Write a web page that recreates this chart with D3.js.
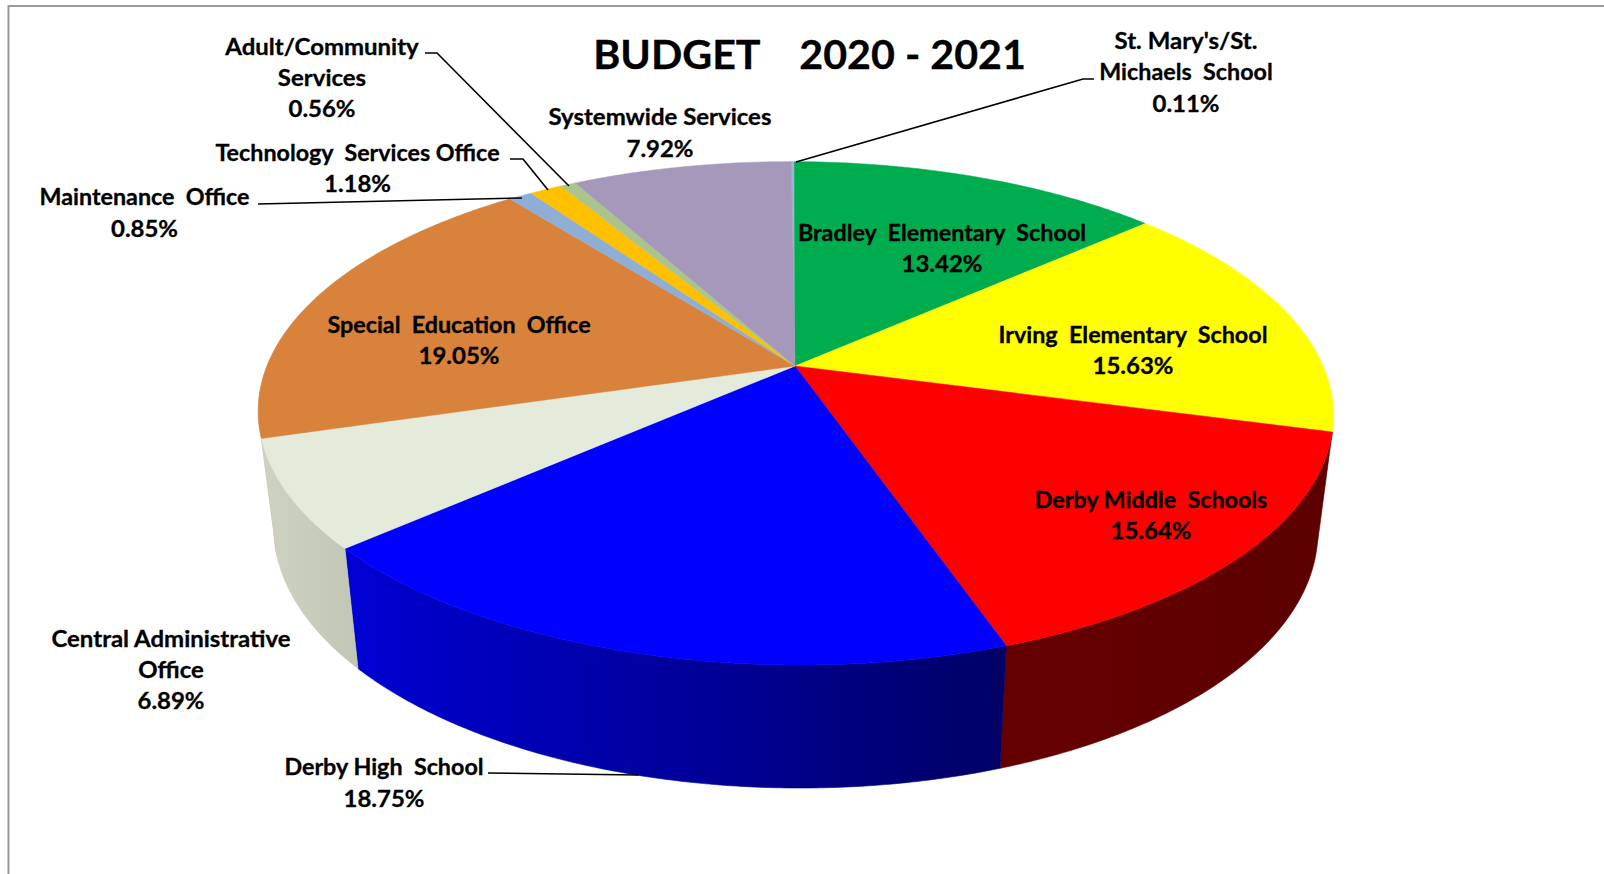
<!DOCTYPE html>
<html>
<head>
<meta charset="utf-8">
<title>Budget 2020 - 2021</title>
<script src="https://d3js.org/d3.v7.min.js"></script>
<style>
  html, body { margin: 0; padding: 0; background: #fff; overflow: hidden; }
  svg { display: block; }
  text { font-family: Lato, "Open Sans", sans-serif; font-weight: 700; fill: #000; stroke: #000; stroke-width: 0.3px; white-space: pre; }
</style>
</head>
<body>
<svg id="chart" width="1604" height="874"></svg>
<script>
// Budget shares, clockwise from twelve o'clock
const departments = [
  "St. Mary's/St. Michaels School", "Bradley Elementary School", "Irving Elementary School",
  "Derby Middle Schools", "Derby High School", "Central Administrative Office",
  "Special Education Office", "Maintenance Office", "Technology Services Office",
  "Adult/Community Services", "Systemwide Services"
];
const shares = [0.11, 13.42, 15.63, 15.64, 18.75, 6.89, 19.05, 0.85, 1.18, 0.56, 7.92];
const topColors = ["#9DB7D5", "#00AD4E", "#FFFF00", "#FF0000", "#0000FF", "#E5EBDB",
                   "#D9823B", "#8FAED6", "#FFC000", "#AAC48E", "#A698BB"];

// Label text, one entry per drawn line
const labelLines = [
  ["Adult/Community", "Services", "0.56%"],
  ["Technology  Services Office", "1.18%"],
  ["Maintenance  Office", "0.85%"],
  ["Systemwide Services", "7.92%"],
  ["St. Mary's/St.", "Michaels  School", "0.11%"],
  ["Bradley  Elementary  School", "13.42%"],
  ["Irving  Elementary  School", "15.63%"],
  ["Special  Education  Office", "19.05%"],
  ["Derby Middle  Schools", "15.64%"],
  ["Central Administrative", "Office", "6.89%"],
  ["Derby High  School", "18.75%"]
];
const labelCenters = [322, 357.5, 144.5, 660, 1186, 942, 1133, 459, 1151, 171, 384];
const labelBaselines = [
  [55, 86, 117], [161, 192], [205, 237], [125, 157], [49, 80, 112], [241, 272],
  [343, 374], [333, 364], [508, 538.5], [647, 678, 709], [775, 807]
];

// Leader lines from outer labels to their slices
const leaders = [
  [[425, 53], [437, 53], [569, 186]],
  [[510, 159], [523, 159], [548, 190]],
  [[258, 204], [522, 198]],
  [[1094, 79], [1083, 79], [796, 162]],
  [[488, 773], [638, 775]]
];

const svg = d3.select("#chart");

// Perspective view of the upper disc: k is the foreshortening toward the viewer,
// shear a slight sideways lean of the viewing direction
const cx = 795, cy = 366, A = 528, B = 242.8, k = 0.188, shear = 0.018;
function project(angle) {
  const u = Math.sin(angle), v = -Math.cos(angle), w = 1 - k * v;
  const y = cy + B * v / w;
  return [cx + A * u / w + shear * (y - cy), y];
}
// The lower disc sits under the upper one and is slightly narrower
function projectBase(angle) {
  const [x, y] = project(angle);
  return [cx + 0.971 * (x - cx), y + 120 + 0.026 * (y - 549)];
}

const pie = d3.pie().sort(null).value(d => d)
  .startAngle(0).endAngle(2 * Math.PI);
const arcs = pie(shares);
const line = d3.line();
const step = Math.PI / 360;
function samples(a0, a1) {
  const n = Math.max(2, Math.ceil((a1 - a0) / step) + 1);
  return d3.range(n).map(i => a0 + (a1 - a0) * i / (n - 1));
}

// Wall shading runs horizontally across each visible side piece
const defs = svg.append("defs");
const wallShades = {
  3: ["#660000", "#5C0000", 1000, 1330],
  4: ["#0000D2", "#000066", 358, 1000],
  5: ["#CDD2C1", "#C2C7B5", 262, 358]
};
Object.entries(wallShades).forEach(([i, [c0, c1, x0, x1]]) => {
  const g = defs.append("linearGradient").attr("id", "wall" + i)
    .attr("gradientUnits", "userSpaceOnUse")
    .attr("x1", x0).attr("x2", x1).attr("y1", 0).attr("y2", 0);
  g.append("stop").attr("offset", 0).attr("stop-color", c0);
  g.append("stop").attr("offset", 1).attr("stop-color", c1);
});

// Frame fragments along the top and left
svg.append("line").attr("x1", 8).attr("x2", 1604).attr("y1", 6).attr("y2", 6)
  .attr("stroke", "#9a9a9a").attr("stroke-width", 2);
svg.append("line").attr("x1", 8.5).attr("x2", 8.5).attr("y1", 5).attr("y2", 874)
  .attr("stroke", "#9a9a9a").attr("stroke-width", 2);

// Side walls first; the upper faces cover the hidden back portions.
// The sliver of the next slice at the left edge reads as a pale rim.
const wallPath = d => {
  const t = samples(d.startAngle, d.endAngle);
  return line(t.map(project).concat(t.slice().reverse().map(projectBase))) + "Z";
};
svg.append("path")
  .attr("d", wallPath(arcs[6]))
  .attr("fill", "#CDD2C1")
  .attr("stroke", "#D8BCA3")
  .attr("stroke-width", 0.8);
svg.append("g").selectAll("path")
  .data(arcs.filter(d => wallShades[d.index]))
  .join("path")
  .attr("d", wallPath)
  .attr("fill", d => `url(#wall${d.index})`)
  .attr("stroke", d => `url(#wall${d.index})`)
  .attr("stroke-width", 0.6);

// Upper faces
svg.append("g").selectAll("path")
  .data(arcs)
  .join("path")
  .attr("d", d => line([[cx, cy]].concat(samples(d.startAngle, d.endAngle).map(project))) + "Z")
  .attr("fill", d => topColors[d.index])
  .attr("stroke", d => topColors[d.index])
  .attr("stroke-width", 0.5);

// Leader lines
svg.append("g").selectAll("path")
  .data(leaders)
  .join("path")
  .attr("d", line)
  .attr("fill", "none")
  .attr("stroke", "#000")
  .attr("stroke-width", 1.6);

// Title
svg.append("text")
  .attr("transform", "translate(809.5,69) scale(1.03,1)")
  .attr("text-anchor", "middle")
  .attr("font-size", 40)
  .text("BUDGET    2020 - 2021");

// Data labels, drawn slightly wide; lines with double word gaps a little less so
const labels = svg.append("g").attr("font-size", 22).attr("text-anchor", "middle");
labelLines.forEach((rows, i) => {
  rows.forEach((row, j) => {
    const widen = row.includes("  ") ? 1.06 : 1.09;
    labels.append("text")
      .attr("transform", `translate(${labelCenters[i]},${labelBaselines[i][j]}) scale(${widen},1)`)
      .text(row);
  });
});
</script>
</body>
</html>
